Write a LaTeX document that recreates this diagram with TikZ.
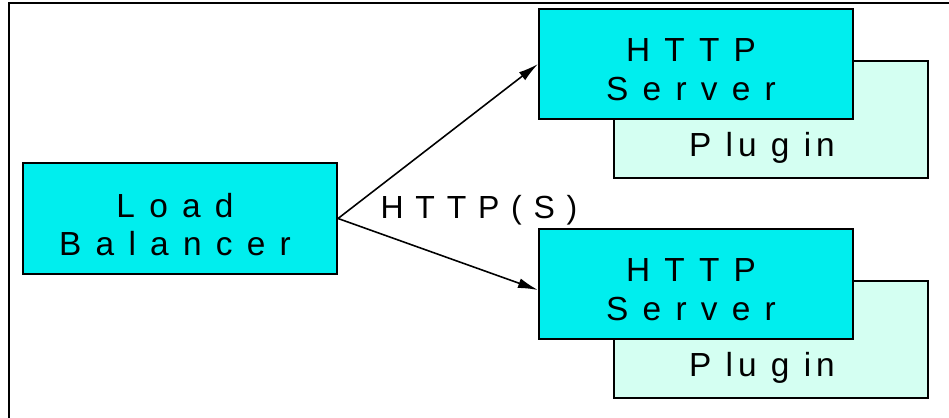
\documentclass[tikz,border=0pt]{standalone}
\usepackage{fontspec}
\setmainfont{Liberation Sans}[LetterSpace=9]
\usepackage{tikz}
\usetikzlibrary{positioning, arrows.meta}
\definecolor{lbcyan}{RGB}{0,238,238}
\definecolor{plugmint}{RGB}{212,255,242}
\tikzstyle{boxtext} =
[align = center, font=\fontsize{19}{22}\selectfont\addfontfeature{LetterSpace=15}]
\tikzstyle{inbox} = [boxtext, xshift=-0.1cm, yshift=-0.12cm]
\tikzstyle{balancer} =
[rectangle, minimum width = 6.28cm, minimum height = 2.22cm, inner sep = 0pt,
draw=black, line width = 1.2pt, fill=lbcyan]
\tikzstyle{server} =
[rectangle, minimum width = 6.28cm, minimum height = 2.2cm, inner sep = 0pt,
draw=black, line width = 1.2pt, fill=lbcyan]
\tikzstyle{plugin} =
[rectangle, minimum width = 6.28cm, minimum height = 2.34cm, inner sep = 0pt,
draw=black, line width = 1.2pt, fill=plugmint]
\tikzstyle{line} = [draw, line width = 0.9pt, -{Latex[length=0.4cm, width=0.2cm]}]

\begin{document}
\begin{tikzpicture}[x=0.02cm, y=-0.02cm]
  \useasboundingbox (0,0) rectangle (949,418);
  % frame
  \draw [line width = 1.2pt] (9,418) -- (9,3) -- (949,3);
  % load balancer
  \node [balancer, label={[inbox]center:L o a d\\ B a l a n c e r}]
   (lb) at (180,218.5) {};
  % upper server with its plugin
  \node [plugin, label={[boxtext, xshift=-0.18cm, yshift=-0.57cm]center:P lu g in}]
   (plugone) at (771,119.5) {};
  \node [server, label={[inbox]center:H T T P\\ S e r v e r}]
   (srvone) at (696,64) {};
  % lower server with its plugin
  \node [plugin, label={[boxtext, xshift=-0.18cm, yshift=-0.57cm]center:P lu g in}]
   (plugtwo) at (771,339.5) {};
  \node [server, label={[inbox]center:H T T P\\ S e r v e r}]
   (srvtwo) at (696,284) {};
  % edges
  \node [font=\fontsize{18.2}{21.5}\selectfont] (proto) at (479,210) {H T T P ( S )};
  \path [line] (lb.east) -- (srvone.west);
  \path [line] (lb.east) -- ([yshift=-0.12cm]srvtwo.west);
\end{tikzpicture}
\end{document}
